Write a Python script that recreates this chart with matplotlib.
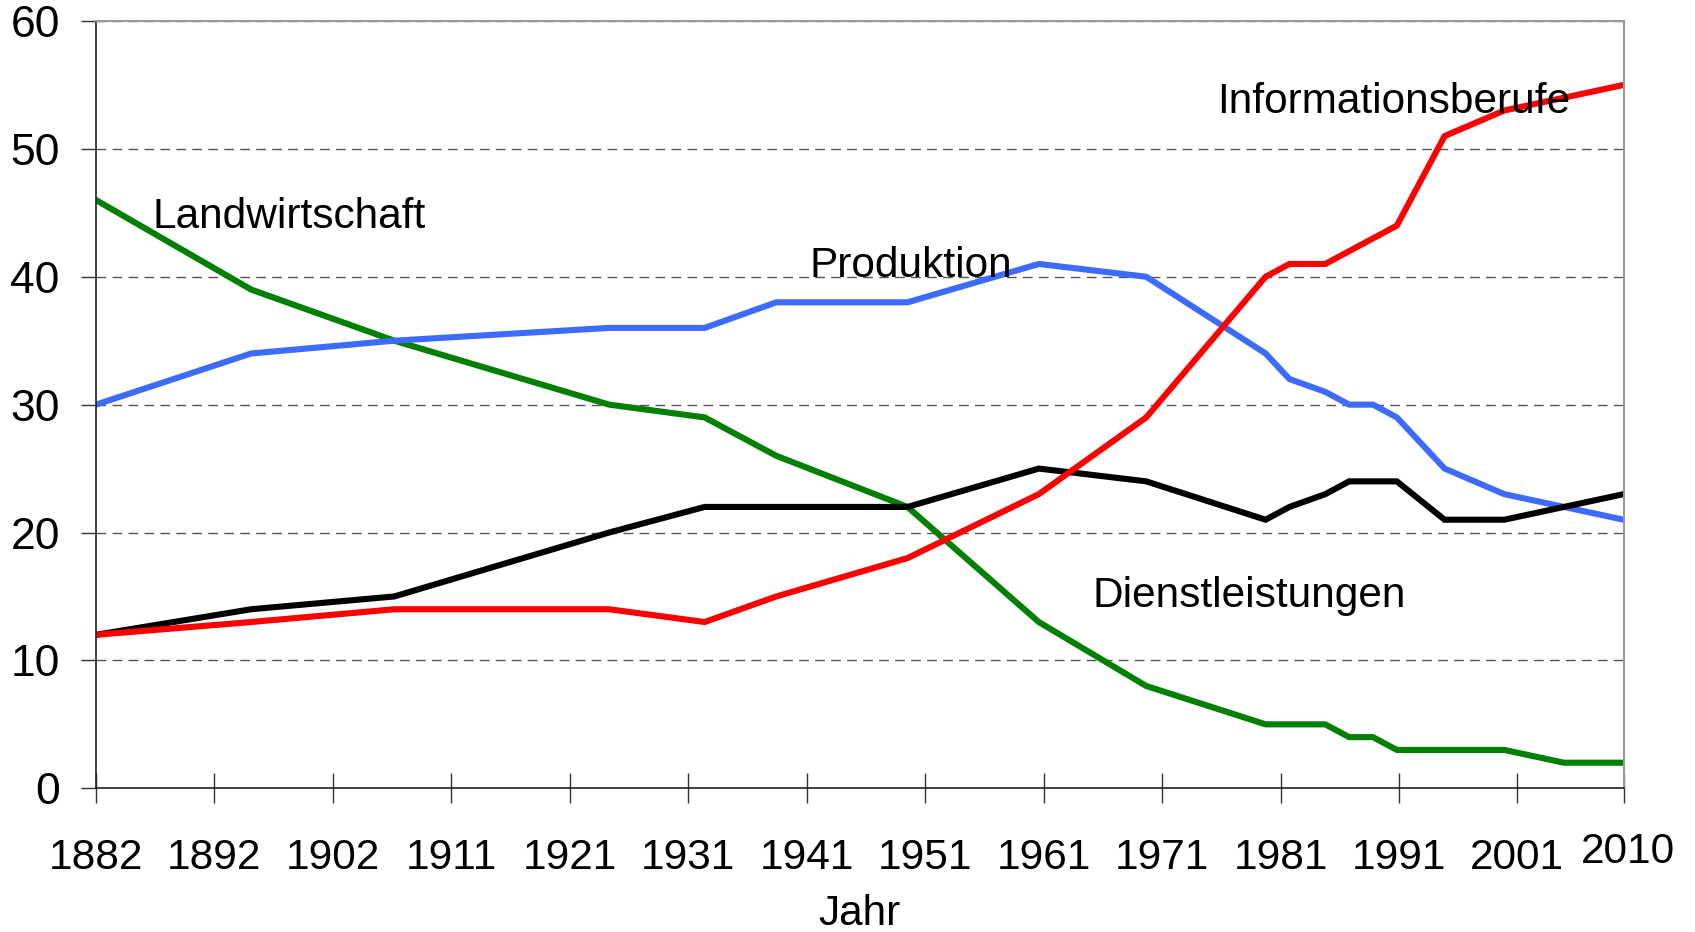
import matplotlib.pyplot as plt
import numpy as np
from matplotlib.transforms import blended_transform_factory

plt.rcParams['font.family'] = ['Liberation Sans', 'DejaVu Sans']

# survey years
years = [1882, 1895, 1907, 1925, 1933, 1939, 1950, 1961, 1970, 1980,
         1982, 1985, 1987, 1989, 1991, 1995, 2000, 2005, 2010]

# share of employed people in percent
landwirtschaft = [46, 39, 35, 30, 29, 26, 22, 13, 8, 5,
                  5, 5, 4, 4, 3, 3, 3, 2, 2]
produktion = [30, 34, 35, 36, 36, 38, 38, 41, 40, 34,
              32, 31, 30, 30, 29, 25, 23, 22, 21]
dienstleistungen = [12, 14, 15, 20, 22, 22, 22, 25, 24, 21,
                    22, 23, 24, 24, 24, 21, 21, 22, 23]
information = [12, 13, 14, 14, 13, 15, 18, 23, 29, 40,
               41, 41, 42, 43, 44, 51, 53, 54, 55]

tick_labels = ["1882", "1892", "1902", "1911", "1921", "1931", "1941",
               "1951", "1961", "1971", "1981", "1991", "2001", "2010"]

fig = plt.figure(figsize=(16.95, 9.32), dpi=100)
ax = fig.add_axes([0.0566, 0.1542, 0.9013, 0.8233])

lw = 4.4
ax.plot(years, landwirtschaft, color="#008000", lw=lw, solid_joinstyle="miter")
ax.plot(years, produktion, color="#3D6BFF", lw=lw, solid_joinstyle="miter")
ax.plot(years, dienstleistungen, color="#000000", lw=lw, solid_joinstyle="miter")
ax.plot(years, information, color="#FF0000", lw=lw, solid_joinstyle="miter")

# axis ranges and ticks
ax.set_xlim(1882, 2010)
ax.set_ylim(0, 60)
ax.set_yticks(np.arange(0, 61, 10))
xt = list(1882 + 9.925 * np.arange(13)) + [2010]
ax.set_xticks(xt)
ax.set_xticklabels(tick_labels[:-1] + [""])
ax.tick_params(axis="x", direction="inout", length=21.6, width=1.0,
               color="#333333", labelsize=30.5, pad=25)
ax.tick_params(axis="y", direction="out", length=11, width=1.0,
               color="#333333", labelsize=32, pad=15)

# last year label sits a bit higher
trans = blended_transform_factory(ax.transData, ax.transAxes)
ax.text(2010.4, -0.0975, "2010", transform=trans, ha="center",
        va="baseline", fontsize=30.5)

# grid and frame
ax.yaxis.grid(True, linestyle=(0, (7, 4.5)), color="#555555", lw=1.0)
ax.set_axisbelow(True)
for s in ["left", "bottom"]:
    ax.spines[s].set_color("#222222")
    ax.spines[s].set_linewidth(1.2)
for s in ["top", "right"]:
    ax.spines[s].set_color("#999999")
    ax.spines[s].set_linewidth(1.5)

# series names
ax.text(1886.7, 43.8, "Landwirtschaft", fontsize=30.5, va="baseline", zorder=5)
ax.text(1941.8, 40.0, "Produktion", fontsize=30.5, va="baseline", zorder=5)
ax.text(1975.9, 52.8, "Informationsberufe", fontsize=30.5, va="baseline", zorder=5)
ax.text(1965.5, 14.2, "Dienstleistungen", fontsize=30.5, va="baseline", zorder=5)

fig.text(859 / 1695, 1 - 925 / 932, "Jahr", ha="center", va="baseline",
         fontsize=30.5)

fig.savefig("out.png", dpi=100)
